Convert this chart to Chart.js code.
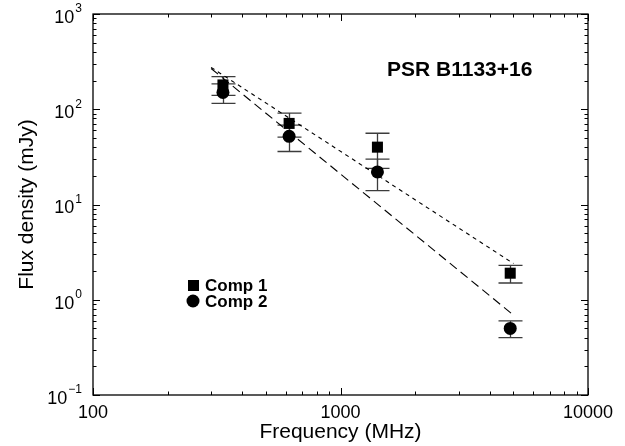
<!DOCTYPE html>
<html>
<head>
<meta charset="utf-8">
<script src="https://cdn.jsdelivr.net/npm/chart.js@4.4.0/dist/chart.umd.min.js"></script>
<style>
  html, body { margin: 0; padding: 0; background: #fff; }
  #wrap { width: 625px; height: 446px; }
</style>
</head>
<body>
<div id="wrap"><canvas id="myChart"></canvas></div>
<script>
// measured flux densities (mJy) at each observing frequency (MHz)
const FREQS = [335, 620, 1410, 4850];
const COMP1 = [180, 71, 40, 1.9];
const COMP1_ERR = [40, 20, 16, 0.4];
const COMP2 = [150, 52, 22, 0.5];
const COMP2_ERR = [35, 16, 8, 0.1];

// power-law fit lines, end points
const FIT_FREQS = [300, 5000];
const FIT1 = [275, 2.4];
const FIT2 = [268, 0.69];

const X_TICKS = [100, 1000, 10000];
const X_TICK_LABELS = ['100', '1000', '10000'];
const Y_TICKS = [0.1, 1, 10, 100, 1000];
const Y_TICK_EXP = ['\u22121', '0', '1', '2', '3'];

const FONT = '"Liberation Sans", Arial, Helvetica, sans-serif';
const CHART = document.getElementById('myChart');

function minorValues(lo, hi) {
    let out = [];
    for (let d = lo; d < hi; d *= 10) {
        for (let k = 2; k <= 9; k++) out.push(d * k);
    }
    return out;
}

function toPoints(xs, ys) {
    return xs.map((v, i) => ({x: v, y: ys[i]}));
}

const decorations = {
    id: 'decorations',
    beforeDatasetsDraw(chart) {
        const {ctx, scales: {x, y}} = chart;
        ctx.save();
        ctx.strokeStyle = '#3c3c3c';
        ctx.lineWidth = 1.3;
        [[COMP1, COMP1_ERR], [COMP2, COMP2_ERR]].forEach(([vals, errs]) => {
            vals.forEach((v, i) => {
                const px = Math.round(x.getPixelForValue(FREQS[i])) + 0.5;
                const top = y.getPixelForValue(v + errs[i]);
                const bot = y.getPixelForValue(v - errs[i]);
                ctx.beginPath();
                ctx.moveTo(px, top); ctx.lineTo(px, bot);
                ctx.moveTo(px - 12, top); ctx.lineTo(px + 12, top);
                ctx.moveTo(px - 12, bot); ctx.lineTo(px + 12, bot);
                ctx.stroke();
            });
        });
        ctx.restore();
    },
    afterDraw(chart) {
        const {ctx, chartArea: a, scales: {x, y}} = chart;
        ctx.save();
        ctx.strokeStyle = '#000';
        ctx.lineWidth = 1.3;
        ctx.strokeRect(a.left, a.top, a.right - a.left, a.bottom - a.top);

        // inward ticks on all four sides
        ctx.lineWidth = 1;
        ctx.beginPath();
        X_TICKS.concat(minorValues(100, 10000)).forEach(v => {
            const len = X_TICKS.includes(v) ? 7 : 3.5;
            const px = Math.round(x.getPixelForValue(v)) + 0.5;
            ctx.moveTo(px, a.bottom); ctx.lineTo(px, a.bottom - len);
            ctx.moveTo(px, a.top); ctx.lineTo(px, a.top + len);
        });
        Y_TICKS.concat(minorValues(0.1, 1000)).forEach(v => {
            const len = Y_TICKS.includes(v) ? 7 : 3.5;
            const py = Math.round(y.getPixelForValue(v)) + 0.5;
            ctx.moveTo(a.left, py); ctx.lineTo(a.left + len, py);
            ctx.moveTo(a.right, py); ctx.lineTo(a.right - len, py);
        });
        ctx.stroke();

        ctx.fillStyle = '#000';
        // x tick labels
        ctx.font = '18px ' + FONT;
        ctx.textAlign = 'center';
        ctx.textBaseline = 'middle';
        X_TICKS.forEach((v, i) => {
            ctx.fillText(X_TICK_LABELS[i], x.getPixelForValue(v), a.bottom + 18);
        });

        // y tick labels as 10 with superscript exponent
        Y_TICKS.forEach((v, i) => {
            const py = y.getPixelForValue(v);
            ctx.font = '12px ' + FONT;
            ctx.textAlign = 'right';
            const expRight = a.left - 11;
            const expW = ctx.measureText(Y_TICK_EXP[i]).width;
            ctx.fillText(Y_TICK_EXP[i], expRight, py - 5);
            ctx.font = '18px ' + FONT;
            ctx.fillText('10', expRight - expW - 1, py + 4);
        });

        // plot label
        ctx.font = 'bold 21px ' + FONT;
        ctx.textAlign = 'left';
        ctx.fillText('PSR B1133+16', 387, 70);

        // legend
        const ds = chart.data.datasets;
        ctx.font = 'bold 17px ' + FONT;
        ctx.fillRect(188, 280, 11, 11);
        ctx.fillText(ds[0].label, 205, 286);
        ctx.beginPath();
        ctx.arc(193, 301, 6.5, 0, Math.PI * 2);
        ctx.fill();
        ctx.fillText(ds[1].label, 205, 302);
        ctx.restore();
    }
};

const myChart = new Chart(CHART, {
    type: 'scatter',
    data: {
        datasets: [{
            label: 'Comp 1',
            data: toPoints(FREQS, COMP1),
            pointStyle: 'rect',
            pointRadius: 7.8,
            backgroundColor: '#000',
            borderWidth: 0
        }, {
            label: 'Comp 2',
            data: toPoints(FREQS, COMP2),
            pointStyle: 'circle',
            pointRadius: 6.5,
            backgroundColor: '#000',
            borderWidth: 0
        }, {
            label: 'Fit 1',
            data: toPoints(FIT_FREQS, FIT1),
            showLine: true,
            pointRadius: 0,
            borderColor: '#000',
            borderWidth: 1.1,
            borderDash: [4, 4]
        }, {
            label: 'Fit 2',
            data: toPoints(FIT_FREQS, FIT2),
            showLine: true,
            pointRadius: 0,
            borderColor: '#000',
            borderWidth: 1.1,
            borderDash: [9, 5]
        }]
    },
    options: {
        responsive: true,
        maintainAspectRatio: false,
        animation: false,
        layout: { padding: { top: 14, right: 37, left: 0, bottom: 0 } },
        plugins: { legend: { display: false }, tooltip: { enabled: false } },
        scales: {
            x: {
                type: 'logarithmic',
                min: 100,
                max: 10000,
                grid: { display: false },
                border: { display: false },
                ticks: { display: false },
                title: {
                    display: true,
                    text: 'Frequency (MHz)',
                    color: '#000',
                    font: { family: FONT, size: 21 },
                    padding: { top: 0, bottom: 1 }
                },
                afterFit: function (scale) { scale.height = 51; }
            },
            y: {
                type: 'logarithmic',
                min: 0.1,
                max: 1000,
                grid: { display: false },
                border: { display: false },
                ticks: { display: false },
                title: {
                    display: true,
                    text: 'Flux density (mJy)',
                    color: '#000',
                    font: { family: FONT, size: 21 },
                    padding: { top: 15, bottom: 0 }
                },
                afterFit: function (scale) { scale.width = 93; }
            }
        }
    },
    plugins: [decorations]
});
</script>
</body>
</html>
